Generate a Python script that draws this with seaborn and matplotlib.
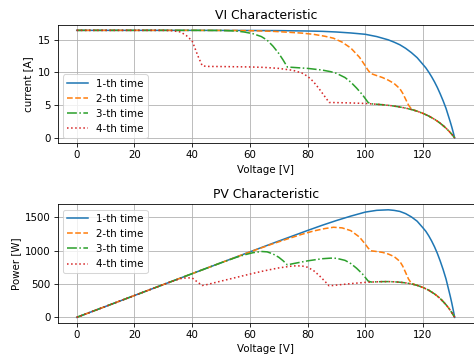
import seaborn as sns
import pandas as pd
import matplotlib.pyplot as plt
import numpy as np

labels = ["1-th time", "2-th time", "3-th time", "4-th time"]
colors = ["tab:blue", "tab:orange", "tab:green", "tab:red"]
styles = ["-", "--", "-.", ":"]

# shared tail of the shaded curves (last module only)
tail_v = [104, 106, 108, 110, 112, 114, 116, 118, 120, 122, 124, 125, 126, 127, 128, 129, 129.5,
          130, 130.5, 131]
tail_i = [5.13, 5.06, 4.97, 4.85, 4.71, 4.54, 4.33, 4.07, 3.74, 3.34, 2.84, 2.55, 2.23, 1.87,
          1.48, 1.04, 0.8, 0.55, 0.28, 0.0]

v1 = [0, 20, 40, 60, 70, 80, 85, 90, 95, 100, 104, 108, 110, 112, 114, 116, 118, 120, 121, 122,
      123, 124, 125, 126, 127, 128, 129, 129.5, 130, 130.5, 131]
i1 = [16.4, 16.4, 16.4, 16.38, 16.36, 16.3, 16.25, 16.15, 16.0, 15.8, 15.45, 14.95, 14.6, 14.2,
      13.66, 13.0, 12.23, 11.2, 10.68, 10.04, 9.33, 8.55, 7.68, 6.7, 5.65, 4.5, 3.1, 2.4, 1.65,
      0.84, 0.0]

v2 = [0, 40, 55, 62, 68, 73, 78, 82, 86, 89, 92, 95, 98, 100, 101, 102, 104, 106, 108, 110,
      112, 113, 114, 115, 116] + tail_v[7:]
i2 = [16.4, 16.4, 16.38, 16.33, 16.25, 16.12, 15.98, 15.8, 15.5, 15.2, 14.6, 13.7, 12.3, 11.0,
      10.3, 9.8, 9.5, 9.2, 8.8, 8.3, 7.5, 6.8, 5.9, 5.0, 4.4] + tail_i[7:]

v3 = [0, 40, 50, 55, 58, 61, 64, 66, 68, 70, 71.5, 73, 75, 80, 85, 88, 90, 93, 95, 97, 99,
      100, 101, 102] + tail_v
i3 = [16.4, 16.4, 16.38, 16.3, 16.15, 15.9, 15.45, 14.9, 14.0, 12.9, 11.9, 10.8, 10.75, 10.6,
      10.35, 10.1, 9.85, 9.2, 8.5, 7.6, 6.6, 6.0, 5.4, 5.2] + tail_i

v4 = [0, 30, 33, 36, 38, 40, 42, 43.5, 45, 50, 60, 65, 70, 75, 78, 80, 82, 84, 86, 87.5, 90,
      95, 100, 102] + tail_v
i4 = [16.4, 16.4, 16.35, 16.15, 15.6, 14.8, 12.5, 11.0, 10.9, 10.88, 10.82, 10.75, 10.6, 10.3,
      9.9, 9.4, 8.6, 7.5, 6.3, 5.4, 5.38, 5.33, 5.25, 5.19] + tail_i

voltages = [v1, v2, v3, v4]
currents = [i1, i2, i3, i4]

fig, (ax1, ax2) = plt.subplots(2, 1, figsize=(6.4, 4.82))

for v, i, lab, c, ls in zip(voltages, currents, labels, colors, styles):
    v = np.array(v, dtype=float)
    i = np.array(i, dtype=float)
    sns.lineplot(x=v, y=i, ax=ax1, color=c, linestyle=ls, label=lab, estimator=None, sort=False)
    sns.lineplot(x=v, y=v * i, ax=ax2, color=c, linestyle=ls, label=lab, estimator=None, sort=False)

ax1.set_title("VI Characteristic")
ax1.set_xlabel("Voltage [V]")
ax1.set_ylabel("current [A]")
ax1.grid(True)
ax1.legend(loc="lower left")

ax2.set_title("PV Characteristic")
ax2.set_xlabel("Voltage [V]")
ax2.set_ylabel("Power [W]")
ax2.grid(True)
ax2.legend(loc="upper left")

plt.subplots_adjust(left=0.122, right=0.999, top=0.93, bottom=0.096, hspace=0.517)
fig.savefig("out.png", dpi=74.07)
